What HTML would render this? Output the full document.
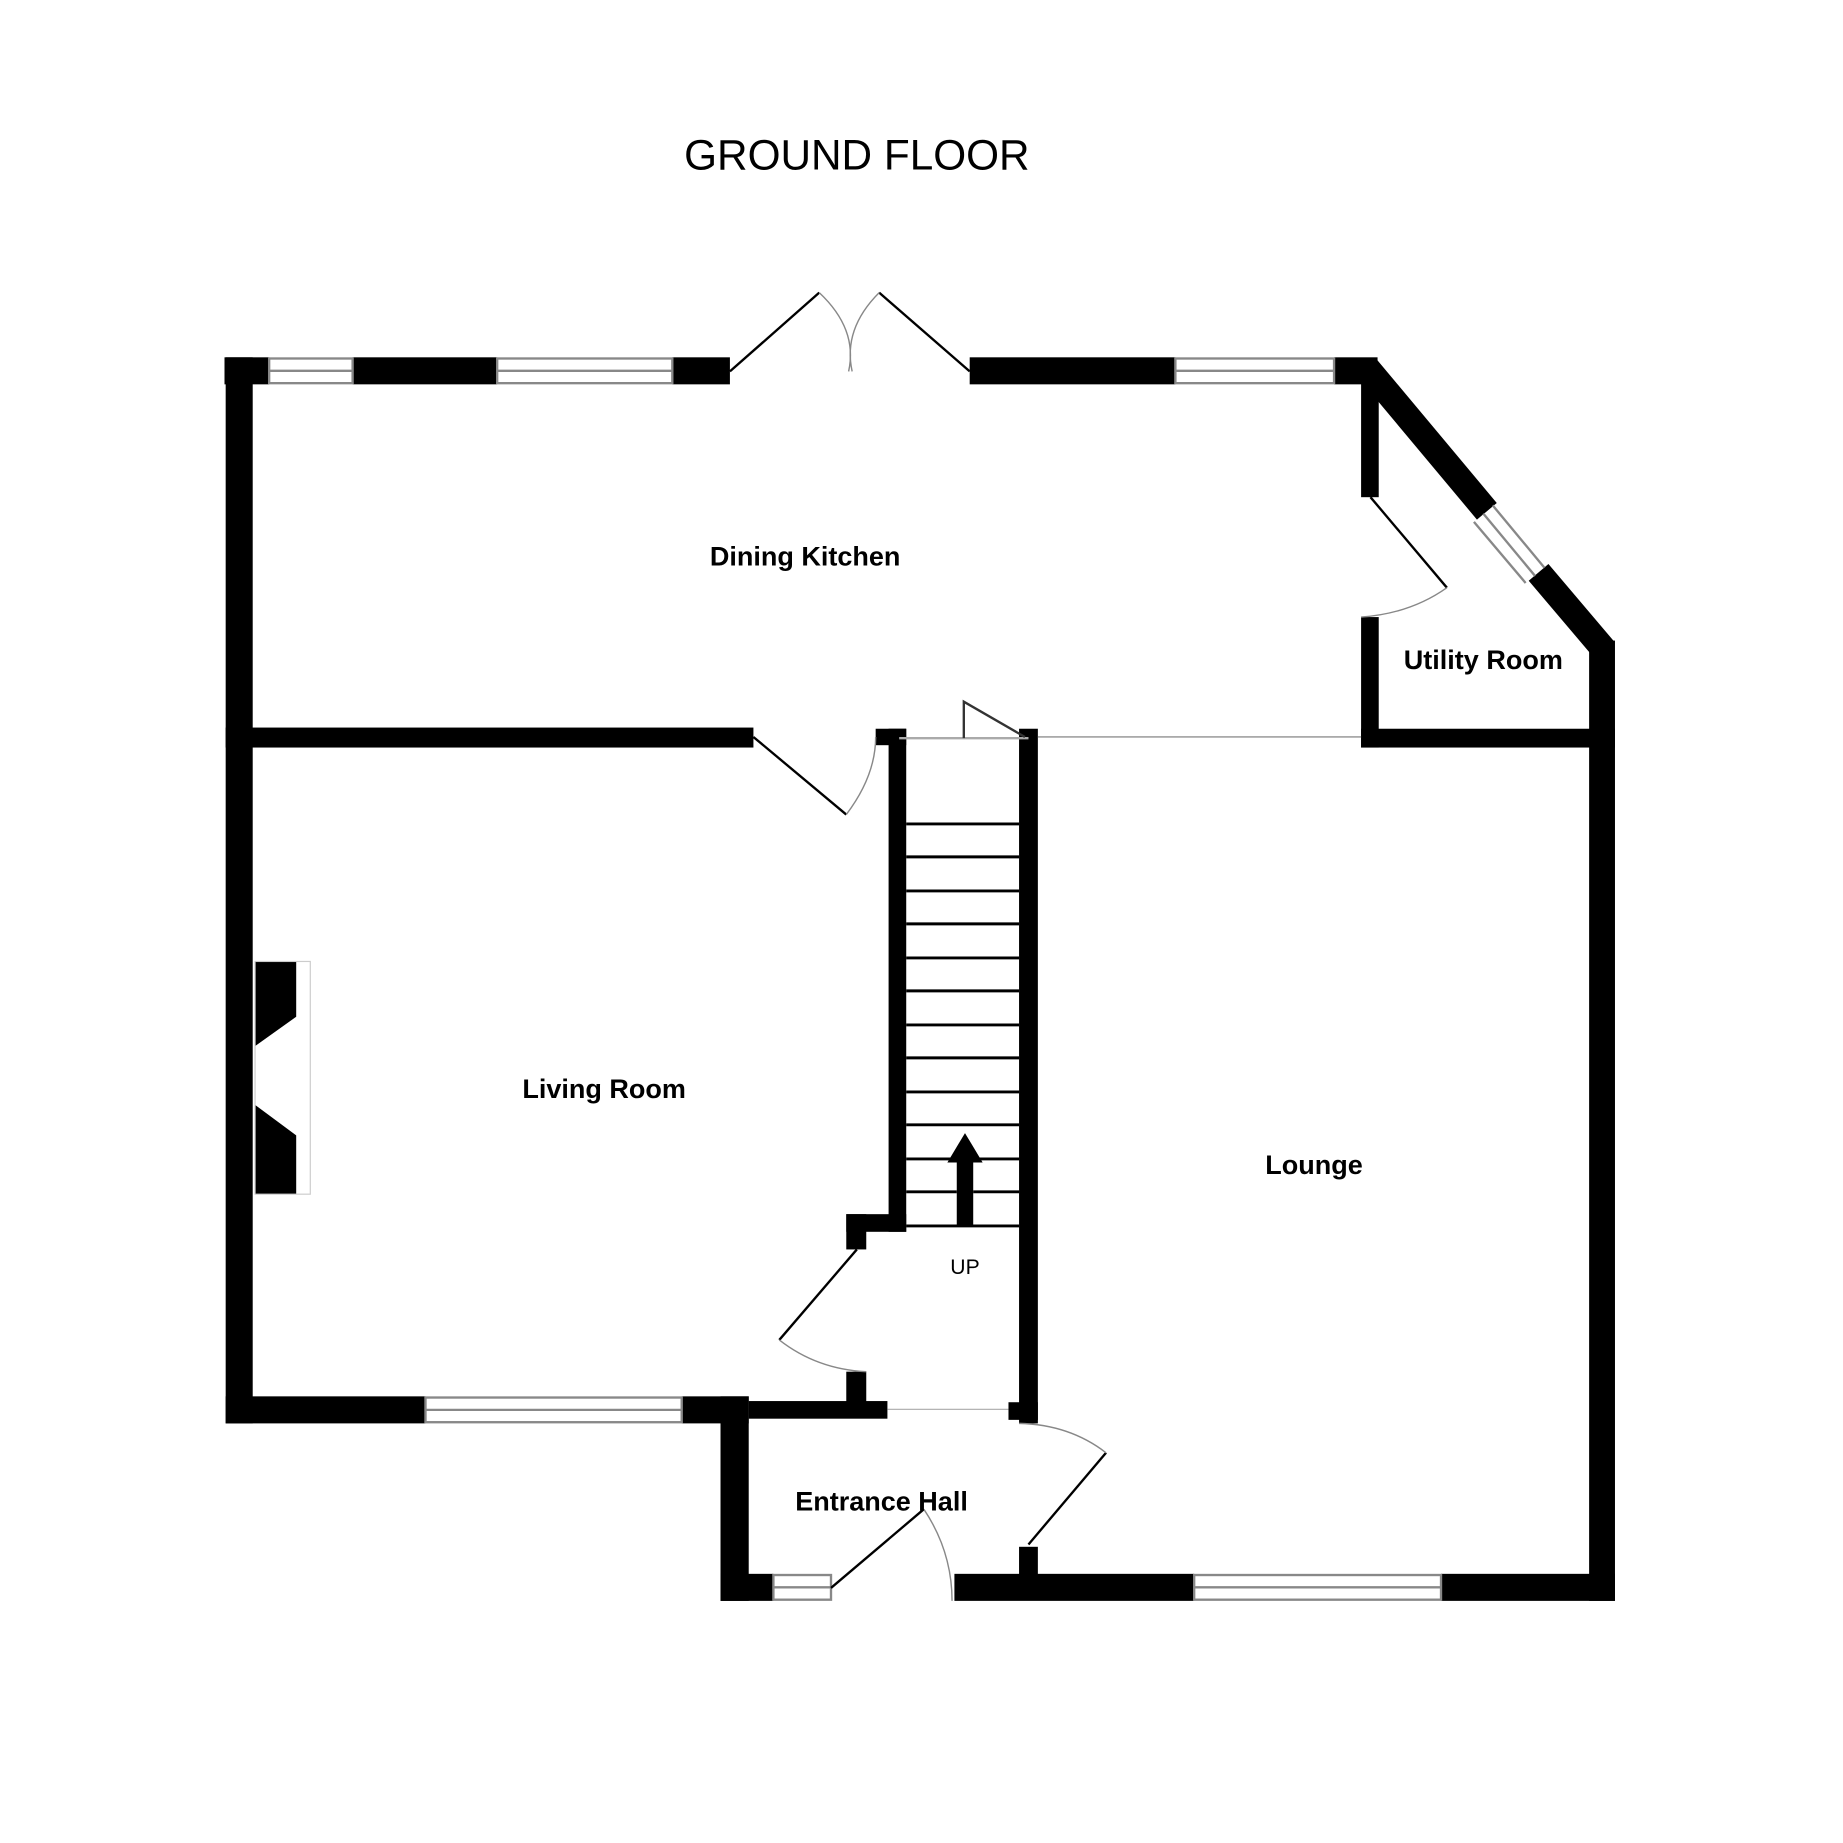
<!DOCTYPE html>
<html><head><meta charset="utf-8"><style>html,body{margin:0;padding:0;background:#fff}svg{display:block}</style></head>
<body>
<svg width="1843" height="1843" viewBox="0 0 1568 1568" xmlns="http://www.w3.org/2000/svg" font-family="Liberation Sans, sans-serif">
<rect width="1568" height="1568" fill="#fff"/>
<text x="729" y="144" font-size="36" text-anchor="middle" fill="#000">GROUND FLOOR</text>
<g fill="#000">
<rect x="191" y="304" width="38" height="23"/>
<rect x="300" y="304" width="123" height="23"/>
<rect x="572" y="304" width="49" height="23"/>
<rect x="825" y="304" width="175" height="23"/>
<rect x="1135" y="304" width="37" height="23"/>
<rect x="192" y="304" width="23" height="907"/>
<rect x="192" y="619" width="449" height="17"/>
<rect x="1158" y="316" width="15" height="107"/>
<rect x="1158" y="525" width="15" height="111"/>
<rect x="1158" y="620" width="216" height="16"/>
<rect x="1352" y="545" width="22" height="817"/>
<rect x="812" y="1339" width="204" height="23"/>
<rect x="1226" y="1339" width="148" height="23"/>
<rect x="867" y="1316" width="16" height="30"/>
<rect x="613" y="1188" width="24" height="174"/>
<rect x="613" y="1339" width="45" height="23"/>
<rect x="192" y="1188" width="170" height="23"/>
<rect x="580" y="1188" width="57" height="23"/>
<rect x="637" y="1192" width="118" height="15"/>
<rect x="720" y="1167" width="17" height="30"/>
<rect x="756" y="620" width="15" height="428"/>
<rect x="745" y="620" width="26" height="14"/>
<rect x="867" y="620" width="16" height="591"/>
<rect x="858" y="1193" width="25" height="15"/>
<rect x="720" y="1033" width="17" height="30"/>
<rect x="720" y="1033" width="51" height="15"/>
<rect x="814" y="986" width="14" height="57"/>
<polygon points="806,989 821,964 836,989"/>
<polygon points="217,818 252,818 252,865 217,890 217,940 252,966 252,1016 217,1016"/>
</g>
<rect x="217" y="818" width="47" height="198" fill="none" stroke="#ccc" stroke-width="1"/>
<g stroke="#000" stroke-width="22" stroke-linecap="butt">
<line x1="1163" y1="313" x2="1265" y2="435"/>
<line x1="1309" y1="487" x2="1365" y2="553"/>
</g>
<g stroke="#888" stroke-width="2">
<line x1="1254" y1="444" x2="1298" y2="496"/>
<line x1="1262" y1="437" x2="1306" y2="490"/>
<line x1="1270" y1="430" x2="1314" y2="483"/>
</g>
<g fill="#fff" stroke="#888" stroke-width="2">
<rect x="229" y="305" width="71" height="21"/>
<rect x="423" y="305" width="149" height="21"/>
<rect x="1000" y="305" width="135" height="21"/>
<rect x="362" y="1189" width="218" height="21"/>
<rect x="1016" y="1340" width="210" height="21"/>
<rect x="658" y="1340" width="49" height="21"/>
</g>
<g stroke="#888" stroke-width="2">
<line x1="229" y1="315.5" x2="300" y2="315.5"/>
<line x1="423" y1="315.5" x2="572" y2="315.5"/>
<line x1="1000" y1="315.5" x2="1135" y2="315.5"/>
<line x1="362" y1="1199.5" x2="580" y2="1199.5"/>
<line x1="1016" y1="1350.5" x2="1226" y2="1350.5"/>
<line x1="658" y1="1350.5" x2="707" y2="1350.5"/>
</g>
<g stroke="#000" stroke-width="2.5">
<line x1="771" y1="701" x2="867" y2="701"/><line x1="771" y1="729" x2="867" y2="729"/>
<line x1="771" y1="758" x2="867" y2="758"/><line x1="771" y1="786" x2="867" y2="786"/>
<line x1="771" y1="815" x2="867" y2="815"/><line x1="771" y1="843" x2="867" y2="843"/>
<line x1="771" y1="872" x2="867" y2="872"/><line x1="771" y1="900" x2="867" y2="900"/>
<line x1="771" y1="929" x2="867" y2="929"/><line x1="771" y1="957" x2="867" y2="957"/>
<line x1="771" y1="986" x2="814" y2="986"/><line x1="828" y1="986" x2="867" y2="986"/>
<line x1="771" y1="1014" x2="814" y2="1014"/><line x1="828" y1="1014" x2="867" y2="1014"/>
<line x1="771" y1="1043" x2="867" y2="1043"/>
</g>
<line x1="765" y1="628" x2="875" y2="628" stroke="#aaa" stroke-width="2"/>
<polyline points="820,628 820,597 872,627" fill="none" stroke="#333" stroke-width="2"/>
<line x1="883" y1="627" x2="1158" y2="627" stroke="#777" stroke-width="1"/>
<line x1="755" y1="1199" x2="858" y2="1199" stroke="#aaa" stroke-width="1"/>
<g stroke="#000" stroke-width="2" fill="none">
<line x1="621" y1="316" x2="697" y2="249"/>
<line x1="825" y1="316" x2="748" y2="249"/>
<line x1="641" y1="627" x2="720" y2="693"/>
<line x1="1166" y1="423" x2="1231" y2="500"/>
<line x1="729" y1="1063" x2="663" y2="1140"/>
<line x1="875" y1="1314" x2="941" y2="1236"/>
<line x1="707" y1="1351" x2="786" y2="1284"/>
</g>
<g stroke="#888" stroke-width="1.2" fill="none">
<path d="M697,249 Q730,280 722,316"/>
<path d="M748,249 Q717,280 725,316"/>
<path d="M720,693 Q745,660 745,627"/>
<path d="M1231,500 Q1200,522 1158,525"/>
<path d="M663,1140 Q695,1165 737,1167"/>
<path d="M941,1236 Q910,1212 867,1211"/>
<path d="M786,1284 Q810,1320 810,1362"/>
</g>
<g font-weight="bold" font-size="23" text-anchor="middle" fill="#000">
<text x="685" y="481">Dining Kitchen</text>
<text x="1262" y="569">Utility Room</text>
<text x="514" y="934">Living Room</text>
<text x="1118" y="999">Lounge</text>
<text x="750" y="1285">Entrance Hall</text>
</g>
<text x="821" y="1084" font-size="18" text-anchor="middle" fill="#000">UP</text>
</svg>
</body></html>
